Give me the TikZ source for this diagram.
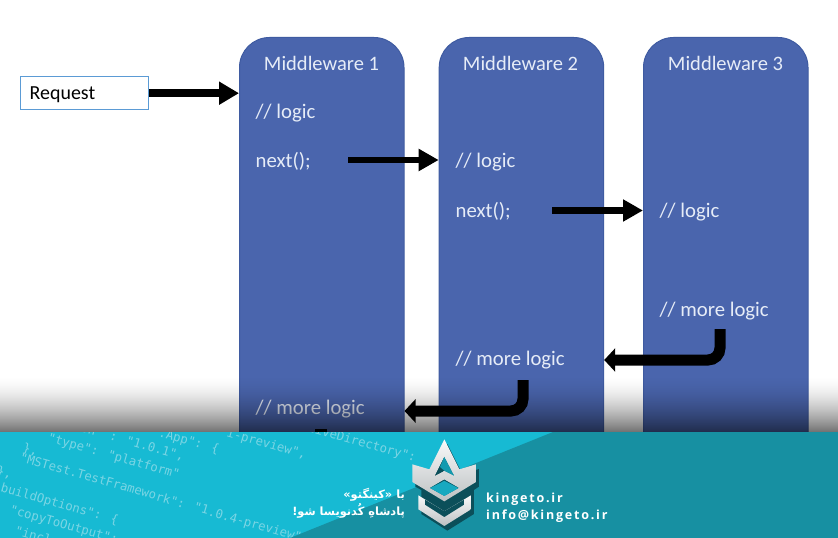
\documentclass[tikz,border=0pt]{standalone}
\usepackage{fontspec}
\usetikzlibrary{arrows.meta}
\setmainfont{Carlito}
\newfontfamily\arabicfont[Script=Arabic]{DejaVu Sans}
\newfontfamily\codefont{DejaVu Sans Mono}
\newfontfamily\brandfont[LetterSpace=14]{Open Sans}
\TeXXeTstate=1
\definecolor{mwblue}{HTML}{4A65AD}
\definecolor{mwedge}{HTML}{3F5BA1}
\definecolor{mwtext}{HTML}{E6ECF7}
\definecolor{reqedge}{HTML}{5B9BD5}
\definecolor{bannerlight}{HTML}{17BAD3}
\definecolor{bannerdark}{HTML}{1790A2}
\definecolor{codetext}{HTML}{7AD5E4}
\definecolor{logoshadow}{HTML}{0B4F5A}
\definecolor{logohi}{HTML}{F8F9F9}
\definecolor{logolo}{HTML}{BDC1C3}
\tikzset{
  mwbox/.style={draw=mwedge,line width=1bp,fill=mwblue,rounded corners=30bp,minimum width=164.5bp,minimum height=445bp,anchor=north west,inner sep=0pt},
  mwtitle/.style={text=mwtext,font=\fontsize{20.6}{23}\selectfont,anchor=center,inner sep=0pt},
  mwline/.style={text=mwtext,font=\fontsize{20.8}{23}\selectfont,anchor=west,inner sep=0pt},
  reqbox/.style={draw=reqedge,line width=1.4bp,fill=white,text=black,font=\fontsize{20}{23}\selectfont,anchor=north west,minimum height=33bp,text width=110bp,text height=18bp,text depth=5bp,inner xsep=9bp,inner ysep=0pt,align=left},
  bigarrow/.style={draw=black,line width=8bp,-{Triangle[length=20bp,width=22bp]}},
  midarrow/.style={draw=black,line width=6.5bp,-{Triangle[length=20bp,width=21bp]}},
  elbowarrow/.style={draw=black,line width=11bp,rounded corners=12bp,-{Triangle[length=11bp,width=23bp]}},
  codeline/.style={text=codetext,font=\codefont\fontsize{12.4}{14}\selectfont,anchor=base west,rotate=-16,inner sep=0pt},
  brand/.style={text=white,font=\brandfont\bfseries\fontsize{12.6}{15}\selectfont,anchor=west,inner sep=0pt},
  persian/.style={text=white,font=\arabicfont\bfseries\fontsize{11.4}{15}\selectfont,anchor=east,inner sep=0pt},
}
\begin{document}
\begin{tikzpicture}[x=1bp,y=-1bp]
\useasboundingbox (0,0) rectangle (838,538);
\fill[white] (0,0) rectangle (838,538);

% middleware columns
\node[mwbox] (mw1) at (239,37) {};
\node[mwbox] (mw2) at (438.7,37) {};
\node[mwbox] (mw3) at (643,37) {};
\node[mwtitle] (t1) at (321.5,63) {Middleware 1};
\node[mwtitle] (t2) at (520.5,63) {Middleware 2};
\node[mwtitle] (t3) at (725.5,63) {Middleware 3};

\node[mwline] (l1) at (255.5,113) {// logic};
\node[mwline] (n1) at (255.5,161.5) {next();};
\node[mwline] (m1) at (255.5,409) {// more logic};
\node[mwline] (l2) at (455.5,162) {// logic};
\node[mwline] (n2) at (455.5,211.5) {next();};
\node[mwline] (m2) at (455.5,360) {// more logic};
\node[mwline] (l3) at (659.5,212) {// logic};
\node[mwline] (m3) at (659.5,311) {// more logic};

\node[reqbox] (req) at (20,76) {Request};

% connectors
\coordinate (a1s) at (348,160);
\coordinate (a2s) at (552,210.5);
\coordinate (e1s) at (720,329);
\coordinate (e1y) at (720,360);
\coordinate (e2s) at (523,380);
\coordinate (e2y) at (523,411);
\coordinate (st1) at (321,429);
\coordinate (st2) at (321,440);
\draw[bigarrow] (req.east) -- (req.east -| mw1.west);
\draw[midarrow] (a1s) -- (a1s -| mw2.west);
\draw[midarrow] (a2s) -- (a2s -| mw3.west);
\draw[elbowarrow] (e1s) -- (e1y) -- (e1y -| mw2.east);
\draw[elbowarrow] (e2s) -- (e2y) -- (e2y -| mw1.east);
\draw[draw=black,line width=12bp] (st1) -- (st2);

% shadow falling from the banner
\foreach \k in {0,...,56}{
  \pgfmathsetmacro{\yy}{376+\k}
  \pgfmathsetmacro{\aa}{0.56*((\k+1)/57)^1.7}
  \fill[black,opacity=\aa] (0,\yy) rectangle (838,\yy+1);
}

% banner
\begin{scope}
\clip (0,432) rectangle (838,538);
\fill[bannerlight] (0,432) rectangle (838,538);
\node[codeline] (c1) at (80,431) {on" : "1.0.1",};
\node[codeline] (c2) at (158,436) {.App": \{};
\node[codeline] (c3) at (226,436) {i-preview",};
\node[codeline] (c4) at (300,429) {ctiveDirectory":};
\node[codeline] (c5) at (47,441) {"type": "platform"};
\node[codeline] (c6) at (22,451) {\},};
\node[codeline] (c7) at (19,461) {"MSTest.TestFramework": "1.0.4-preview"};
\node[codeline] (c8) at (-4,474) {\},};
\node[codeline] (c9) at (0,491) {buildOptions": \{};
\node[codeline] (c10) at (9,513) {"copyToOutput": \{};
\node[codeline] (c11) at (14,534) {"include": [};
\fill[bannerdark] (553,432) -- (838,432) -- (838,538) -- (290,538) -- cycle;
\end{scope}

% logo
\begin{scope}[shift={(400,432)},x=0.3333bp,y=-0.3333bp]
\begin{scope}[shift={(9,14)}]
\fill[logoshadow] (133,22) -- (178,112) -- (228,97) -- (228,150) -- (213,160) -- (213,232) -- (133,282) -- (55,232) -- (55,160) -- (37,150) -- (37,97) -- (88,112) -- cycle;
\end{scope}
\shade[top color=logohi,bottom color=logolo,even odd rule]
  (133,22) -- (178,112) -- (228,97) -- (228,150) -- (133,208) -- (37,150) -- (37,97) -- (88,112) -- cycle
  (133,75) -- (105,131) -- (133,116) -- (162,131) -- cycle
  (90,168) -- (133,143) -- (176,168) -- (133,192) -- cycle;
\fill[logoshadow] (133,75) -- (105,131) -- (133,116) -- (120,105) -- cycle;
\fill[bannerlight!70!logoshadow] (133,75) -- (162,131) -- (133,116) -- (120,105) -- cycle;
\fill[bannerlight!60!bannerdark] (90,168) -- (133,143) -- (176,168) -- (133,192) -- cycle;
\fill[logoshadow] (90,168) -- (133,143) -- (176,168) -- (160,160) -- (133,146) -- (106,160) -- cycle;
\shade[top color=logohi,bottom color=logolo]
  (55,190) -- (133,238) -- (213,190) -- (213,232) -- (133,282) -- (55,232) -- cycle;
\fill[logoshadow] (75,203) -- (133,238) -- (192,203) -- (192,218) -- (133,255) -- (75,218) -- cycle;
\end{scope}

% brand texts
\node[persian] (p1) at (405,495) {\beginR با «کینگتو»\endR};
\node[persian] (p2) at (405,511) {\beginR پادشاهِ کُدنویسا شو!\endR};
\node[brand] (b1) at (486,499) {kingeto.ir};
\node[brand] (b2) at (486,516) {info@kingeto.ir};
\end{tikzpicture}
\end{document}
